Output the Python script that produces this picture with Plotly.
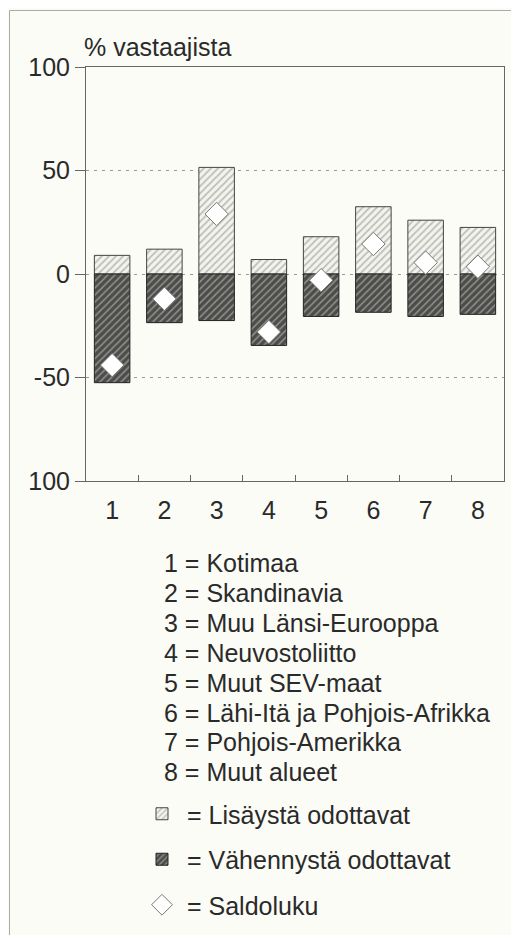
import plotly.graph_objects as go

# ---- data ----
categories = ["1", "2", "3", "4", "5", "6", "7", "8"]
category_names = ["Kotimaa", "Skandinavia", "Muu Länsi-Eurooppa", "Neuvostoliitto",
                  "Muut SEV-maat", "Lähi-Itä ja Pohjois-Afrikka", "Pohjois-Amerikka",
                  "Muut alueet"]
increase = [9, 12, 51.5, 7, 18, 32.5, 26, 22.5]          # Lisäystä odottavat
decrease = [-52.5, -23.5, -22.5, -34.5, -20.5, -18.5, -20.5, -19.5]  # Vähennystä odottavat
balance = [-44, -12, 29, -28, -3, 14.5, 5.5, 3.5]        # Saldoluku
y_tickvals = [-100, -50, 0, 50, 100]
y_ticktext = ["100", "-50", "0", "50", "100"]
series_names = ["= Lisäystä odottavat", "= Vähennystä odottavat", "= Saldoluku"]
y_title = "% vastaajista"

FONT = "Liberation Sans, Arial, sans-serif"
TXT = "#2a2a2a"
BG = "#fcfcf7"
FS = 25

# page offset of the figure (default body margin of the html page)
OFF = 8
PL, PR, PT, PB = 86, 504, 67, 481   # plot area in page pixels
PW, PH = PR - PL, PB - PT


def px_x(x):
    return (x - PL) / PW


def px_y(y):
    return (PB - y) / PH


fig = go.Figure()
fig.add_trace(go.Bar(
    x=categories, y=increase, name=series_names[0], width=0.68,
    marker=dict(color="#ecece6", line=dict(color="#444", width=1),
                pattern=dict(shape="/", bgcolor="#f4f4ee", fgcolor="#8a8a86",
                             size=5, solidity=0.35)),
    legendgroup="a"))
fig.add_trace(go.Bar(
    x=categories, y=decrease, name=series_names[1], width=0.68,
    marker=dict(color="#333", line=dict(color="#222", width=1),
                pattern=dict(shape="/", bgcolor="#8e8e8a", fgcolor="#0a0a0a",
                             size=5, solidity=0.68)),
    legendgroup="b"))
fig.add_trace(go.Scatter(
    x=categories, y=balance, name=series_names[2], mode="markers",
    marker=dict(symbol="diamond", size=18, color="white",
                line=dict(color="#777", width=1)),
    legendgroup="c"))

annotations = [
    dict(text=y_title, xref="paper", yref="paper", x=px_x(82), y=px_y(47),
         xanchor="left", yanchor="middle", showarrow=False,
         font=dict(size=FS, color=TXT)),
]
for i, (c, n) in enumerate(zip(categories, category_names)):
    annotations.append(dict(
        text=f"{c} = {n}", xref="paper", yref="paper", x=px_x(162),
        y=px_y(563 + 29.9 * i), xanchor="left", yanchor="middle",
        showarrow=False, font=dict(size=FS, color=TXT)))

fig.update_layout(
    width=519 - OFF, height=935 - OFF,
    margin=dict(l=PL - OFF, r=519 - PR, t=PT - OFF, b=935 - PB, autoexpand=False),
    paper_bgcolor=BG, plot_bgcolor=BG,
    barmode="relative",
    font=dict(family=FONT, size=FS, color=TXT),
    showlegend=True,
    legend=dict(x=px_x(137), y=px_y(791), xanchor="left", yanchor="top",
                bgcolor="rgba(0,0,0,0)", font=dict(size=FS, color=TXT),
                tracegroupgap=10, itemwidth=40),
    xaxis=dict(type="category", range=[-0.5, 7.5], showline=True, mirror=True,
               linecolor="#666", linewidth=1, ticks="inside", ticklen=6,
               tickcolor="#666", tickson="boundaries", showgrid=False,
               automargin=False, ticklabelstandoff=7,
               tickfont=dict(size=FS, color=TXT)),
    yaxis=dict(range=[-100, 100], tickvals=y_tickvals, ticktext=y_ticktext,
               showline=True, mirror=True, linecolor="#666", linewidth=1,
               ticks="outside", ticklen=10, tickcolor="#666",
               showgrid=True, gridcolor="#999", griddash="3px,5px", gridwidth=1,
               zeroline=False, automargin=False, tickfont=dict(size=FS, color=TXT)),
    annotations=annotations,
    shapes=[dict(type="rect", xref="paper", yref="paper", layer="below",
                 x0=px_x(9.5), x1=px_x(540), y0=px_y(960), y1=px_y(10.5),
                 line=dict(color="#aaa", width=1), fillcolor="rgba(0,0,0,0)")],
)

fig.write_html("out.html")
